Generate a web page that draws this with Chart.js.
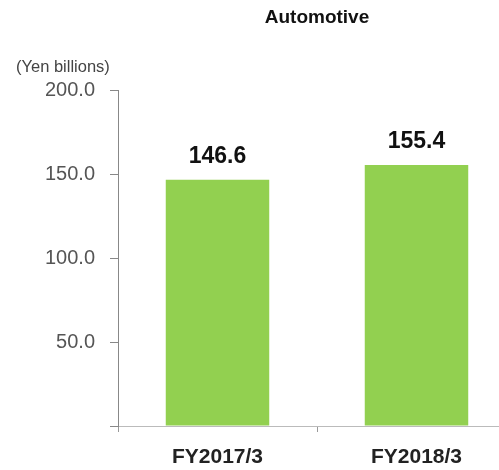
<!DOCTYPE html>
<html>
<head>
<meta charset="utf-8">
<script src="https://cdn.jsdelivr.net/npm/chart.js@4/dist/chart.umd.min.js"></script>
<style>
  html, body { margin: 0; padding: 0; background: #fff; overflow: hidden; }
  #wrap { width: 516px; height: 470px; }
</style>
</head>
<body>
<div id="wrap"><canvas id="autoChart" width="516" height="470"></canvas></div>
<script>
let categories = ["FY2017/3", "FY2018/3"];
let sales = [146.6, 155.4];
let yTicks = [0, 50, 200];
let chartTitle = "Automotive";
let unitLabel = "(Yen billions)";

// values above the bars, title + unit text placed over the plot area
const textPlugin = {
  id: "textPlugin",
  afterDatasetsDraw(chart) {
    const ctx = chart.ctx;
    const meta = chart.getDatasetMeta(0);
    ctx.save();
    ctx.fillStyle = "#111";
    ctx.font = "bold 23px 'Liberation Sans', Arial, sans-serif";
    ctx.textAlign = "center";
    ctx.textBaseline = "bottom";
    meta.data.forEach((bar, i) => {
      ctx.fillText(sales[i].toFixed(1), bar.x, bar.y - 12);
    });

    const area = chart.chartArea;
    ctx.font = "bold 19px 'Liberation Sans', Arial, sans-serif";
    ctx.textBaseline = "middle";
    ctx.fillText(chartTitle, (area.left + area.right) / 2, 18);

    ctx.fillStyle = "#444";
    ctx.font = "16.5px 'Liberation Sans', Arial, sans-serif";
    ctx.textAlign = "left";
    ctx.fillText(unitLabel, 16, 67);
    ctx.restore();
  }
};

const ctx = document.getElementById("autoChart").getContext("2d");
new Chart(ctx, {
  type: "bar",
  data: {
    labels: categories,
    datasets: [
      {
        data: sales,
        backgroundColor: "#92D050",
        categoryPercentage: 1,
        barPercentage: 0.52
      }
    ]
  },
  options: {
    responsive: false,
    animation: false,
    layout: { padding: { top: 90, left: 0, right: 0, bottom: 0 } },
    plugins: {
      legend: { display: false },
      tooltip: { enabled: false }
    },
    scales: {
      x: {
        grid: { drawOnChartArea: false, tickLength: 6, color: "#999" },
        border: { color: "#bbb" },
        ticks: {
          color: "#222",
          padding: 13,
          font: { family: "'Liberation Sans', Arial, sans-serif", size: 21, weight: "bold" }
        },
        afterFit(scale) { scale.height = 44; }
      },
      y: {
        min: yTicks[0],
        max: yTicks[2],
        grid: { drawOnChartArea: false, tickLength: 8, color: "#888" },
        border: { color: "#888" },
        ticks: {
          stepSize: yTicks[1],
          padding: 15,
          color: "#555",
          font: { family: "'Liberation Sans', Arial, sans-serif", size: 20 },
          callback: (v) => (v === 0 ? "" : v.toFixed(1))
        },
        afterFit(scale) { scale.width = 118; }
      }
    }
  },
  plugins: [textPlugin]
});
</script>
</body>
</html>
